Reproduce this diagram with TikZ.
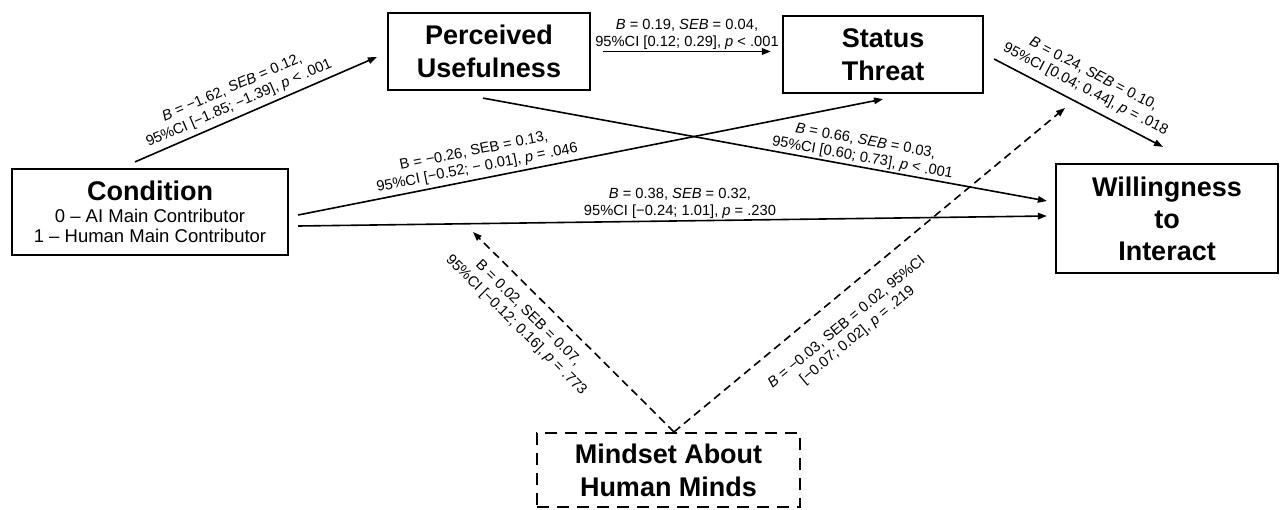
\documentclass[tikz,border=0pt]{standalone}
\usepackage{fontspec}
\setmainfont{Liberation Sans}
\usetikzlibrary{arrows.meta}
\begin{document}
\begin{tikzpicture}[x=1pt,y=-1pt,
  box/.style={draw, line width=2.2pt, align=center, inner sep=0pt, font=\bfseries\fontsize{27}{33}\selectfont},
  lab/.style={font=\fontsize{14.7}{17}\selectfont, align=center, inner sep=1.5pt},
  arr/.style={line width=1.6pt, -{Triangle[length=9pt,width=6.5pt]}},
  darr/.style={arr, dash pattern=on 8pt off 5pt}]
\useasboundingbox (0,0) rectangle (1284,509);
\node[box, minimum width=276pt, minimum height=86pt, font=\fontsize{18.5}{20}\selectfont] (cond) at (150,212)
  {{\bfseries\fontsize{27}{30}\selectfont Condition}\\[2pt]0 – AI Main Contributor\\1 – Human Main Contributor};
\node[box, minimum width=202pt, minimum height=77pt] (pu) at (489,51.5) {Perceived\\Usefulness};
\node[box, minimum width=200pt, minimum height=77pt] (st) at (883,54.5) {Status\\Threat};
\node[box, minimum width=222pt, minimum height=109pt, font=\bfseries\fontsize{27}{32}\selectfont] (will) at (1167,218.5) {Willingness\\to\\Interact};
\node[box, dash pattern=on 12pt off 8pt, minimum width=263pt, minimum height=74pt] (mind) at (668.5,470) {Mindset About\\Human Minds};
\coordinate (m1) at (473,232);
\coordinate (m2) at (1065,108);
% solid paths
\draw[arr] ([xshift=-15pt,yshift=6pt]cond.north) -- node[lab, above=3pt, sloped, pos=0.45]
  {\textit{B} = −1.62, \textit{SEB} = 0.12,\\95\%CI [−1.85; −1.39], \textit{p} < .001} ([xshift=-10pt,yshift=-5.5pt]pu.west);
\draw[arr] ([xshift=12pt]pu.east) -- node[lab, above]
  {\textit{B} = 0.19, \textit{SEB} = 0.04,\\95\%CI [0.12; 0.29], \textit{p} < .001} ([xshift=-11pt]st.west |- pu.east);
\draw[arr] ([xshift=10pt,yshift=-4.5pt]st.east) -- node[lab, above=6pt, sloped, pos=0.5]
  {\textit{B} = 0.24, \textit{SEB} = 0.10,\\95\%CI [0.04; 0.44], \textit{p} = .018} ([xshift=-4pt,yshift=16pt]will.north);
\draw[arr] ([xshift=-6pt,yshift=-7pt]pu.south) -- node[lab, above, sloped, pos=0.67]
  {\textit{B} = 0.66, \textit{SEB} = 0.03,\\95\%CI [0.60; 0.73], \textit{p} < .001} ([xshift=-8pt,yshift=17.5pt]will.west);
\draw[arr] ([xshift=9pt,yshift=-3pt]cond.east) -- node[lab, above=2pt, sloped, pos=0.31]
  {B = −0.26, SEB = 0.13,\\95\%CI [−0.52; − 0.01], \textit{p} = .046} ([yshift=-5pt]st.south);
\draw[arr] ([xshift=9pt,yshift=-14pt]cond.east) -- node[lab, above, pos=0.51]
  {\textit{B} = 0.38, \textit{SEB} = 0.32,\\95\%CI [−0.24; 1.01], \textit{p} = .230} ([xshift=-8pt,yshift=2.5pt]will.west);
% dashed paths
\draw[darr] ([xshift=5.5pt]mind.north) -- node[lab, below=10pt, sloped, pos=0.66]
  {B = 0.02, SEB = 0.07,\\95\%CI [−0.12; 0.16], \textit{p} = .773} (m1);
\draw[darr] ([xshift=5.5pt]mind.north) -- node[lab, below=17pt, sloped, pos=0.4]
  {\textit{B} = −0.03, SEB = 0.02, 95\%CI\\{}[−0.07; 0.02], \textit{p} = .219} (m2);
\end{tikzpicture}
\end{document}
